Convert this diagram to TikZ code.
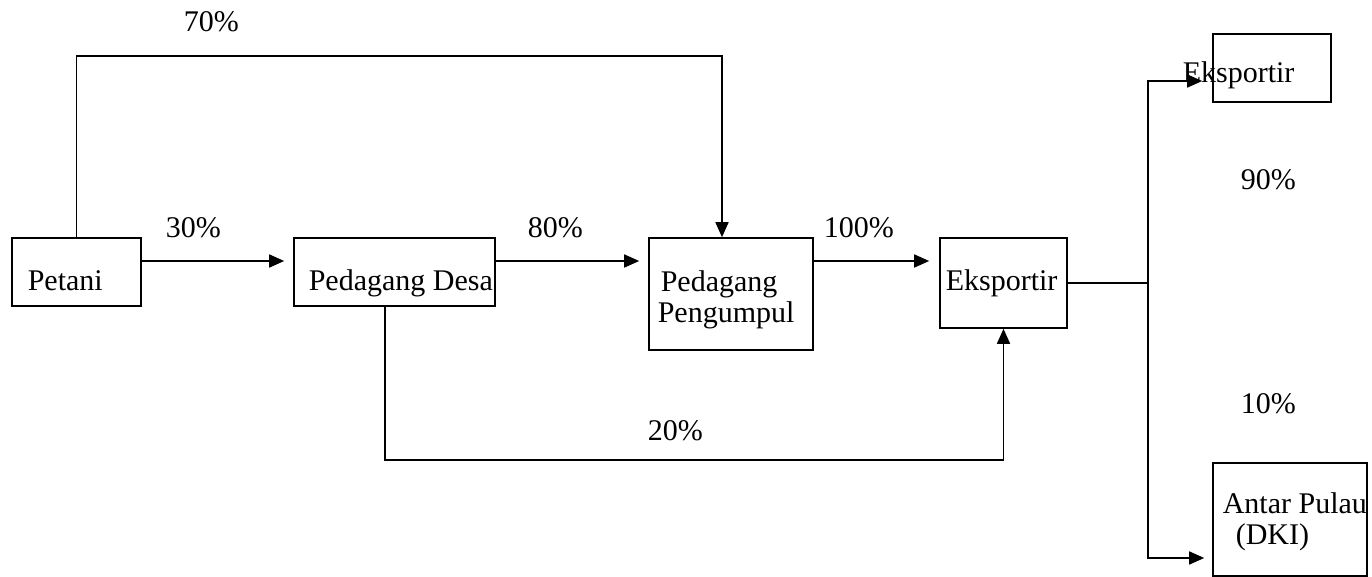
\documentclass[tikz,border=0pt]{standalone}
\usepackage{fontspec}
\setmainfont{Liberation Serif}
\usepackage{tikz}
\usetikzlibrary{arrows.meta}

\begin{document}
\begin{tikzpicture}[x=0.5pt, y=-0.5pt, line width=0.8pt,
	box/.style={rectangle, draw=black, inner sep=0pt},
	txt/.style={anchor=base west, inner sep=0pt, font=\fontsize{15}{18}\selectfont},
	arr/.style={-{Triangle[length=7.5pt, width=6.5pt]}}]
	\useasboundingbox (0,0) rectangle (1372,577);
	\node[box, minimum width=64.5pt, minimum height=34pt] at (76.5,272)(petani){};
	\node[box, minimum width=100.5pt, minimum height=34pt] at (394.5,272)(desa){};
	\node[box, minimum width=82pt, minimum height=56pt] at (731,294)(pengumpul){};
	\node[box, minimum width=63.5pt, minimum height=45pt] at (1003.5,283)(eksportir){};
	\node[box, minimum width=59pt, minimum height=34pt] at (1272,68)(ekstop){};
	\node[box, minimum width=77pt, minimum height=56.5pt] at (1290,519.5)(antar){};
	\node[txt] at (27,291)(tpetani){Petani};
	\node[txt] at (308,291)(tdesa){Pedagang Desa};
	\node[txt] at (660,292)(tpeng1){Pedagang};
	\node[txt] at (657,323)(tpeng2){Pengumpul};
	\node[txt] at (945,291)(teks){Eksportir};
	\node[txt] at (1182,83)(tekstop){Eksportir};
	\node[txt] at (1222,513)(tantar1){Antar Pulau};
	\node[txt] at (1235,544)(tantar2){(DKI)};
	\node[txt] at (183,32)(p70){70\%};
	\node[txt] at (165,238)(p30){30\%};
	\node[txt] at (527,238)(p80){80\%};
	\node[txt] at (823,238)(p100){100\%};
	\node[txt] at (647,441)(p20){20\%};
	\node[txt] at (1240,190)(p90){90\%};
	\node[txt] at (1240,414)(p10){10\%};
	\coordinate (split) at (1148,283);
	\draw[arr](petani.north) -- ++(0,-181) -| ([xshift=-4.5pt]pengumpul.north);
	\draw[arr, shorten >=4.5pt]([yshift=5.5pt]petani.east) -- ([yshift=5.5pt]desa.west);
	\draw[arr, shorten >=4.5pt]([yshift=5.5pt]desa.east) -- ([yshift=5.5pt]desa.east -| pengumpul.west);
	\draw[arr, shorten >=5pt]([yshift=16.5pt]pengumpul.east) -- ([yshift=16.5pt]pengumpul.east -| eksportir.west);
	\draw[arr]([xshift=-4.75pt]desa.south) -- ++(0,153) -| (eksportir.south);
	\draw(eksportir.east) -- (split);
	\draw[arr, shorten >=5pt](split) |- ([yshift=-6.5pt]ekstop.west);
	\draw[arr, shorten >=4pt](split) |- ([yshift=-19.25pt]antar.west);
\end{tikzpicture}
\end{document}
